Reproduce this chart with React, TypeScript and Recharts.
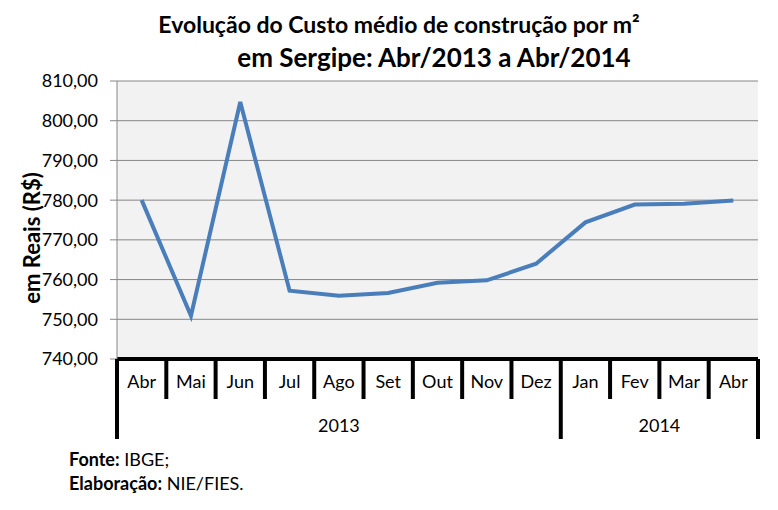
import React from 'react';
import { LineChart, Line, XAxis, YAxis, CartesianGrid } from 'recharts';

const months = ['Abr', 'Mai', 'Jun', 'Jul', 'Ago', 'Set', 'Out', 'Nov', 'Dez', 'Jan', 'Fev', 'Mar', 'Abr'];
const monthKeys = ['Abr/13', 'Mai/13', 'Jun/13', 'Jul/13', 'Ago/13', 'Set/13', 'Out/13', 'Nov/13', 'Dez/13', 'Jan/14', 'Fev/14', 'Mar/14', 'Abr/14'];
const costs = [780.0, 750.9, 804.7, 757.2, 755.9, 756.6, 759.2, 759.8, 764.0, 774.4, 778.9, 779.1, 779.9];
const years = ['2013', '2014'];
const yearCounts = [9, 4];
const yTicks = [740, 750, 760, 770, 780, 790, 800, 810];

const titleLines = ['Evolução do Custo médio de construção por m²', 'em Sergipe: Abr/2013 a Abr/2014'];
const yAxisTitle = 'em Reais (R$)';

const data = monthKeys.map((k, i) => ({ key: k, month: months[i], cost: costs[i] }));

const FONT = 'Lato, "Open Sans", sans-serif';

const groupStarts: number[] = [];
{
  let acc = 0;
  yearCounts.forEach((c) => {
    groupStarts.push(acc);
    acc += c;
  });
}

const MonthTick = (props: any) => {
  const { x, y, payload, index } = props;
  const half = payload && payload.offset ? payload.offset : 641 / 13 / 2;
  const gi = groupStarts.indexOf(index);
  const isStart = gi >= 0;
  const isLast = index === months.length - 1;
  const left = x - half;
  return (
    <g>
      <text x={x} y={y + 29} textAnchor="middle" fontFamily={FONT} fontSize={18} fill="#000">
        {months[index]}
      </text>
      <line x1={left} x2={left} y1={y} y2={y + (isStart ? 80 : 40)} stroke="#000" strokeWidth={4} />
      {isLast && (
        <line x1={x + half} x2={x + half} y1={y} y2={y + 80} stroke="#000" strokeWidth={4} />
      )}
      {isStart && (
        <text
          x={left + yearCounts[gi] * half}
          y={y + 73}
          textAnchor="middle"
          fontFamily={FONT}
          fontSize={18}
          fill="#000"
        >
          {years[gi]}
        </text>
      )}
    </g>
  );
};

const YLabel = () => (
  <text
    x={40}
    y={238}
    transform="rotate(-90 40 238)"
    textAnchor="middle"
    fontFamily={FONT}
    fontWeight="bold"
    fontSize={22}
    fill="#000"
  >
    {yAxisTitle}
  </text>
);

export default function App() {
  return (
    <div style={{ position: 'absolute', left: 0, top: 0, width: 778, height: 510, background: '#fff', fontFamily: FONT }}>
      <style>{'body{margin:0}'}</style>
      <div style={{ position: 'absolute', left: 0, top: 0, width: 778, height: 510 }}>
        <LineChart width={778} height={510} data={data} margin={{ top: 81, right: 20, bottom: 0, left: 17 }}>
          <CartesianGrid vertical={false} stroke="#868686" strokeWidth={1} fill="#F2F2F2" horizontalValues={yTicks} />
          <XAxis
            dataKey="key"
            scale="band"
            interval={0}
            height={151}
            tickLine={false}
            tickSize={0}
            tickMargin={0}
            axisLine={{ stroke: '#000', strokeWidth: 4 }}
            tick={<MonthTick />}
          />
          <YAxis
            width={100}
            domain={[740, 810]}
            ticks={yTicks}
            interval={0}
            tickSize={7}
            tickMargin={12}
            tickLine={{ stroke: '#868686' }}
            axisLine={{ stroke: '#868686' }}
            tick={{ fill: '#000', fontSize: 18, fontFamily: FONT }}
            tickFormatter={(v: number) => v.toFixed(2).replace('.', ',')}
            label={<YLabel />}
          />
          <Line
            type="linear"
            dataKey="cost"
            stroke="#4A7EBB"
            strokeWidth={4}
            dot={false}
            activeDot={false}
            isAnimationActive={false}
          />
        </LineChart>
      </div>
      <svg
        width={778}
        height={510}
        style={{ position: 'absolute', left: 0, top: 0, pointerEvents: 'none' }}
        fontFamily={FONT}
      >
        <text x={399} y={33} textAnchor="middle" fontWeight="bold" fontSize={23} fill="#000">
          {titleLines[0]}
        </text>
        <text x={434} y={67} textAnchor="middle" fontWeight="bold" fontSize={26} fill="#000">
          {titleLines[1]}
        </text>
        <text x={69} y={466} fontSize={18} fill="#000">
          <tspan fontWeight="bold">Fonte:</tspan>
          <tspan> IBGE;</tspan>
        </text>
        <text x={69} y={490} fontSize={18} fill="#000">
          <tspan fontWeight="bold">Elaboração:</tspan>
          <tspan> NIE/FIES.</tspan>
        </text>
      </svg>
    </div>
  );
}
